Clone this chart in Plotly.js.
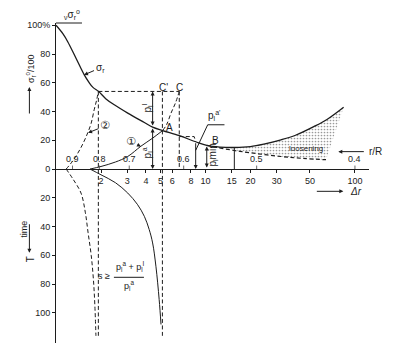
<!DOCTYPE html>
<html><head><meta charset="utf-8">
<script src="https://cdn.plot.ly/plotly-3.0.1.min.js"></script>
<style>html,body{margin:0;padding:0;background:#fff}#c{width:396px;height:357px}</style>
</head><body><div id="c"></div>
<script>
// ---- data (x = Δr, y = σr°/100 above zero, time T below zero as negatives)
const sigmaR_dr = [1.0, 1.114, 1.198, 1.361, 1.546, 1.662, 1.767, 1.93, 2.16, 2.455, 3.02, 3.9, 4.43, 5.17, 6.68, 8.6, 10.2, 12.5, 15.6, 20, 25, 32, 40, 53, 65, 84];
const sigmaR_v  = [100, 94, 88.6, 77.1, 65.5, 60.3, 56.8, 53.9, 48.8, 44.7, 38.9, 32.4, 29.2, 26.8, 23.2, 19, 16.5, 15.3, 15, 15.6, 17.5, 20.3, 23.5, 29.5, 34.5, 43];
const c1_dr = [1.69, 2.0, 2.5, 3.02, 3.7, 4.43, 5.17];
const c1_v  = [0, 1.8, 4.9, 8.75, 15.9, 21.5, 26.8];
const c1d_dr = [5.17, 5.5, 5.88, 6.3, 6.68];
const c1d_v  = [26.8, 31, 38.9, 46, 54];
const c2_dr = [1.17, 1.28, 1.40, 1.52, 1.63, 1.72, 1.80, 1.87, 1.92];
const c2_v  = [0, 5, 11.1, 18, 25.2, 32, 41.2, 48, 54];
const low1_dr = [1.69, 2.0, 2.5, 3.02, 3.5, 3.9, 4.2, 4.43, 4.66, 4.9, 5.04];
const low1_T  = [0, -4, -9.5, -16.7, -24.5, -32.9, -42, -51.4, -67.6, -90.8, -108.1];
const low2_dr = [1.17, 1.3, 1.47, 1.57, 1.64, 1.72, 1.78, 1.82, 1.85];
const low2_T  = [0, -7, -16.7, -30, -44.4, -60, -77, -95, -116];
const looseBot_dr = [10.2, 12, 15.6, 20, 32, 45, 64];
const looseBot_v  = [16.5, 15, 12.9, 11.3, 8.75, 7.4, 6.5];
const pointA = [5.17, 26.8], pointB = [10.2, 16.5];
const drC1 = 1.92, drCp = 5.15, drC = 6.68, levelC = 54, tEnd = -116;
const drPl = 4.43, vPl = 29.2;
const drPa2 = 8.6, vPa2 = 19, pa2Shelf = 22.6, drPa2Shelf = 8.4;
const drPmin = 10.2, vPmin = 15.7;
const drMin = 15.6, vMin = 15;
const xTicks = [2, 3, 4, 5, 6, 8, 10, 15, 20, 30, 50, 100];
const yTickVals = [100, 80, 60, 40, 20, 0, -20, -40, -60, -80, -100];
const yTickText = ['100%', '80', '60', '40', '20', '0', '20', '40', '60', '80', '100'];
const rR_labels = ['0.9', '0.8', '0.7', '0.6', '0.5', '0.4'];
const rR_dr = [1.29, 1.95, 3.09, 7.15, 22, 100];

const L = Math.log10;
const INK = '#1c1c1c';
const yMin = -121, yMax = 101.6;
const DASH = '4px,2.5px';
const FAM = 'Liberation Sans, Arial, sans-serif';

function line(x, y, o) {
  o = o || {};
  return {type: 'scatter', mode: 'lines', x: x, y: y, hoverinfo: 'skip', showlegend: false,
    line: {color: INK, width: o.w || 1, dash: o.dash || 'solid', shape: o.shape || 'linear'}};
}
// loosening polygon
const topIdx = sigmaR_dr.map((d, i) => i).filter(i => sigmaR_dr[i] >= pointB[0]);
const polyX = topIdx.map(i => sigmaR_dr[i]).concat(looseBot_dr.slice().reverse());
const polyY = topIdx.map(i => sigmaR_v[i]).concat(looseBot_v.slice().reverse());

const traces = [
  {type: 'scatter', mode: 'lines', x: polyX, y: polyY, fill: 'toself', hoverinfo: 'skip', showlegend: false,
   line: {width: 0, color: 'rgba(0,0,0,0)'}, fillcolor: 'rgba(0,0,0,0)',
   fillpattern: {shape: '.', fgcolor: '#9a9a9a', bgcolor: 'rgba(255,255,255,0)', size: 3, solidity: 0.25}},
  line(sigmaR_dr, sigmaR_v, {w: 1.3, shape: 'spline'}),
  line(c1_dr, c1_v, {shape: 'spline'}),
  line(c1d_dr, c1d_v, {shape: 'spline', dash: DASH}),
  line(c2_dr, c2_v, {shape: 'spline', dash: DASH}),
  line(low1_dr, low1_T, {shape: 'spline'}),
  line(low2_dr, low2_T, {shape: 'spline', dash: DASH}),
  line(looseBot_dr, looseBot_v, {shape: 'spline', dash: DASH, w: 1.2}),
  line([drC1, drC1], [levelC, tEnd], {dash: DASH}),
  line([drCp, drCp], [levelC, tEnd], {dash: DASH}),
  line([drC, drC], [levelC, 0], {dash: DASH}),
  line([drC1, drC], [levelC, levelC], {dash: DASH}),
  line([drC, drPa2Shelf, drPa2], [pa2Shelf, pa2Shelf, vPa2], {dash: DASH}),
  line([drMin, drMin], [0, vMin]),
  line([drPa2, 10.35, 13.4], [13, 30.8, 30.8])
];

function txt(x, y, text, o) {
  return Object.assign({x: L(x), y: y, xref: 'x', yref: 'y', text: text, showarrow: false,
    xanchor: 'center', yanchor: 'middle', font: {size: 10, color: INK, family: FAM}}, o || {});
}
function arr(x0, y0, x1, y1, both) {
  return {x: L(x1), y: y1, ax: L(x0), ay: y0, axref: 'x', ayref: 'y', xref: 'x', yref: 'y',
    showarrow: true, text: '', arrowhead: 2, arrowsize: 0.8, arrowwidth: 1, arrowcolor: INK,
    arrowside: both ? 'end+start' : 'end', standoff: 0, startstandoff: 0};
}
function pointer(xt, yt, x, y, text, font) {
  return {x: L(x), y: y, ax: L(xt), ay: yt, axref: 'x', ayref: 'y', xref: 'x', yref: 'y',
    showarrow: true, text: text, arrowhead: 2, arrowsize: 0.8, arrowwidth: 1, arrowcolor: INK,
    font: font || {size: 10, color: INK, family: FAM}};
}
function pap(x, y, text, o) {
  return Object.assign({xref: 'paper', yref: 'paper', x: x, y: y, text: text, showarrow: false,
    xanchor: 'center', yanchor: 'middle', font: {size: 9, color: INK, family: FAM}}, o || {});
}
function parrow(x, y, ax, ay) {
  return {xref: 'paper', yref: 'paper', x: x, y: y, ax: ax, ay: ay, text: '', showarrow: true,
    arrowhead: 2, arrowsize: 0.8, arrowwidth: 1, arrowcolor: INK, standoff: 0};
}
const circFont = {size: 11, color: INK, family: 'DejaVu Sans, Noto Sans CJK SC, sans-serif'};
const F9 = {size: 9, color: INK, family: FAM};

const ann = [
  arr(drPl, vPl, drPl, levelC, true),
  arr(drPl, vPl, drPl, 0, true),
  arr(drPa2, vPa2, drPa2, 0, false),
  arr(drPmin, 0, drPmin, vPmin, true),
  txt(pointA[0] * 1.11, pointA[1] + 2.4, 'A'),
  txt(pointB[0] * 1.14, pointB[1] + 3.4, 'B'),
  txt(drCp * 1.015, levelC + 3, "C'"),
  txt(drC, levelC + 3, 'C'),
  pointer(3.18, 19.2, 3.7, 15.7, '①', circFont),
  pointer(2.13, 30, 1.64, 25.2, '②', circFont),
  pointer(1.97, 70.3, 1.54, 65.5, 'σ<sub>r</sub>'),
  txt(4.1, 42.5, 'p<sub>l</sub><sup>I</sup>', {textangle: -90}),
  txt(4.1, 11.3, 'p<sub>l</sub><sup>a</sup>', {textangle: -90}),
  txt(11.4, 37, "p<sub>l</sub><sup>a'</sup>"),
  txt(11.25, 9.5, 'p<sub>l</sub>min', {textangle: -90}),
  txt(47, 14, 'loosening', {font: {size: 8, color: INK, family: FAM}}),
  txt(3.13, -67.8, 'p<sub>l</sub><sup>a</sup> + p<sub>l</sub><sup>I</sup>', {font: F9}),
  txt(3.1, -80.8, 'p<sub>l</sub><sup>a</sup>', {font: F9}),
  txt(2.095, -74.5, 's ≥', {font: F9}),
  // axis side labels
  pap(-0.083, 0.856, 'σ<sub>r</sub><sup>o</sup>/100', {textangle: -90}),
  parrow(-0.085, 0.8, 0, 28),
  pap(-0.102, 0.354, 'time', {textangle: -90}),
  parrow(-0.085, 0.282, 0, -30),
  pap(-0.083, 0.262, 'T', {textangle: -90, font: {size: 10, color: INK, family: FAM}}),
  pap(0.019, 1.0, '<sub>ν</sub>σ<sub>r</sub><sup>o</sup>', {xanchor: 'left', yanchor: 'bottom', font: {size: 10, color: INK, family: FAM}}),
  parrow(0.902, 0.598, 27, 0),
  pap(0.994, 0.598, 'r/R', {xanchor: 'left', font: {size: 10, color: INK, family: FAM}}),
  parrow(0.918, 0.474, -28, 0),
  pap(0.932, 0.472, '<i>Δr</i>', {xanchor: 'left', font: {size: 10, color: INK, family: FAM}})
];
rR_labels.forEach((lab, i) => {
  ann.push({x: L(rR_dr[i]), y: 0, xref: 'x', yref: 'y', ax: 0, ay: -10, text: lab, showarrow: true,
    arrowhead: 0, arrowwidth: 0.8, arrowcolor: '#444', standoff: 0, font: F9});
});

const layout = {
  width: 396, height: 357,
  margin: {l: 56, r: 27, t: 23, b: 13.5, pad: 0},
  paper_bgcolor: '#fff', plot_bgcolor: '#fff',
  showlegend: false,
  xaxis: {type: 'log', range: [0, 2.094], anchor: 'free', position: (0 - yMin) / (yMax - yMin),
    showline: true, linecolor: INK, linewidth: 1, showgrid: false, zeroline: false,
    ticks: 'outside', ticklen: 3, tickcolor: INK, tickvals: xTicks, ticktext: xTicks.map(String),
    tickfont: F9, fixedrange: true},
  yaxis: {range: [yMin, yMax], showline: true, linecolor: INK, linewidth: 1, showgrid: false, zeroline: false,
    ticks: 'outside', ticklen: 3, tickcolor: INK, tickvals: yTickVals, ticktext: yTickText,
    tickfont: F9, fixedrange: true},
  shapes: [
    {type: 'line', xref: 'paper', yref: 'paper', x0: 0, x1: 0.083, y0: 1, y1: 1, line: {color: INK, width: 1}},
    {type: 'line', xref: 'paper', yref: 'y', x0: 0.185, x1: 0.281, y0: -75.3, y1: -75.3, line: {color: INK, width: 1}}
  ],
  annotations: ann
};
Plotly.newPlot('c', traces, layout, {staticPlot: true, displayModeBar: false});
</script></body></html>
